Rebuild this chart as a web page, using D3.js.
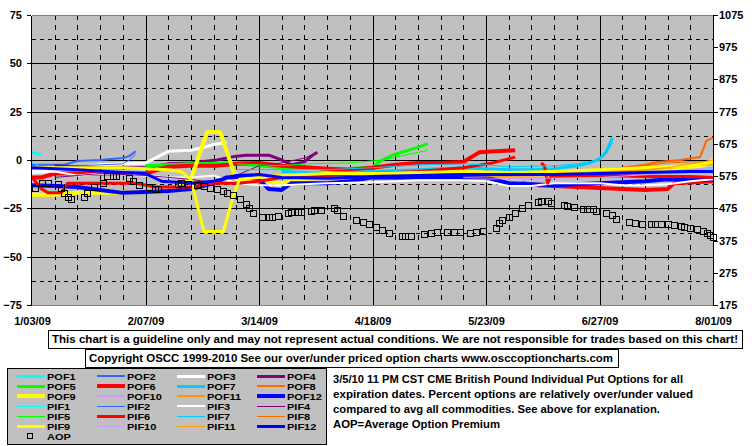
<!DOCTYPE html>
<html>
<head>
<meta charset="utf-8">
<title>British Pound Individual Put Options</title>
<script src="https://d3js.org/d3.v7.min.js"></script>
<style>
  body { margin: 0; background: #fff; }
  svg text { font-family: "Liberation Sans", Arial, sans-serif; font-weight: bold; font-size: 11px; fill: #000; }
</style>
</head>
<body>
<div id="chart"></div>
<script>
// axis ticks
const xTickDates = ["1/03", "2/07", "3/14", "4/18", "5/23", "6/27", "8/01"];
const leftTicks = [-75, -50, -25, 0, 25, 50, 75];
const rightTicks = [175, 275, 375, 475, 575, 675, 775, 875, 975, 1075];

// series: [date, percent over/under]; null = gap in the line
const POF1 = [["1/03", 4], ["1/06", 2.5]];
const POF2 = [["1/03", -2.5], ["1/13", -2.5], ["1/17", -0.5], ["1/24", 0], ["1/31", 1], ["2/02", 2], ["2/04", 4.5]];
const POF3 = [["1/03", -6], ["1/10", -5.5], ["1/17", -4], ["1/24", -2.5], ["1/31", -2], ["2/07", -1.5], ["2/10", 1], ["2/14", 4.5],
  ["2/21", 5], ["2/25", 6.5], ["2/28", 8], ["3/04", 9]];
const POF4 = [["1/10", -3], ["1/24", -4], ["2/07", -4], ["2/14", -2], ["2/21", -1.5], ["3/01", 0], ["3/07", 2], ["3/10", 2.5],
  ["3/17", 2.5], ["3/21", 0], ["3/24", -2.5], ["3/28", -1], ["3/31", 3], ["4/01", 4]];
const POF5 = [["2/07", -3], ["2/21", -2], ["3/07", -1.5], ["3/14", -3], ["3/21", -4], ["4/04", -4.5], ["4/11", -4.5], ["4/18", -3.5],
  ["4/21", 0], ["4/25", 3], ["4/29", 5], ["5/02", 6.5], ["5/05", 8.5]];
const POF6 = [["1/03", -9], ["1/06", -9], ["1/10", -7], ["1/17", -7], ["1/31", -7], ["2/07", -7], ["2/14", -3.5], ["2/21", -3],
  ["3/01", -3], ["3/07", -2], ["3/14", -1.5], ["3/21", -3], ["4/04", -4.5], ["4/11", -5], ["4/18", -4], ["4/25", -2.5],
  ["5/02", -1.5], ["5/09", -1.5], ["5/16", -1], ["5/19", 2], ["5/21", 4], ["5/26", 4.5], ["6/01", 5], null,
  ["6/03", -12], ["6/08", -13], ["6/13", -13.5], ["6/20", -14], ["6/27", -14.5], ["7/04", -15], ["7/11", -15.5],
  ["7/18", -15], ["7/20", -12], ["8/01", -11]];
const POF7 = [["3/21", -6], ["4/04", -7], ["4/18", -6], ["5/02", -5], ["5/16", -4], ["5/23", -4.5], ["5/30", -5], ["6/06", -5],
  ["6/13", -4.5], ["6/20", -3], ["6/24", -1.5], ["6/27", 0.5], ["6/29", 4], ["7/01", 11.5]];
const POF8 = [["4/18", -9], ["5/02", -8], ["5/16", -7], ["5/30", -6.5], ["6/13", -6], ["6/27", -5.5], ["7/04", -4], ["7/11", -2.5],
  ["7/15", -1], ["7/22", 0], ["7/28", 1.5], ["7/30", 10], ["8/01", 11.5]];
const POF9 = [["1/03", -18], ["1/10", -18], ["1/17", -17], ["1/31", -17], ["2/07", -16.5], ["2/14", -16], ["2/18", -13],
  ["2/21", -10], ["2/26", 14.5], ["3/02", 14.5], ["3/07", -10], ["3/10", -11], ["3/14", -11], ["3/21", -12], ["3/28", -10],
  ["4/04", -9], ["4/18", -8], ["5/02", -8], ["5/16", -8.5], ["5/30", -9], ["6/13", -8], ["6/27", -7.5], ["7/04", -5],
  ["7/11", -4], ["7/18", -4.5], ["7/25", -4], ["7/29", -3], ["8/01", 0]];
const POF10 = [["4/18", -10], ["5/02", -9], ["5/30", -9], ["6/13", -9], ["6/27", -8], ["7/11", -7], ["7/18", -6], ["7/25", -5], ["8/01", -4]];
const POF11 = [["4/04", -10], ["4/18", -9], ["5/02", -8], ["5/16", -7.5], ["5/30", -7], ["6/13", -6.5], ["6/27", -6], ["7/11", -5],
  ["7/25", -3], ["8/01", -2]];
const POF12 = [["1/03", -13], ["1/10", -13.5], ["1/17", -14], ["1/24", -15.5], ["1/31", -17], ["2/07", -16.5], ["2/14", -16],
  ["2/21", -15], ["2/28", -12], ["3/04", -9], ["3/10", -8.5], ["3/14", -10], ["3/17", -15], ["3/21", -15.5], ["3/24", -12],
  ["4/04", -12], ["4/11", -11], ["4/18", -9], ["5/02", -9], ["5/16", -9], ["5/23", -9], ["5/30", -12], ["6/06", -12.5],
  ["6/13", -13], ["6/20", -12.5], ["6/27", -12], ["7/04", -11.5], ["7/11", -11], ["7/18", -10], ["7/25", -10.5], ["8/01", -10]];

const PIF1 = [["1/03", -1], ["1/05", -3], ["1/07", -5], null, ["7/18", -7], ["7/25", -6.5], ["8/01", -4]];
const PIF2 = [["1/10", -3.5], ["1/17", -3], ["1/24", -2.5], ["1/31", -2], ["2/02", 0], ["2/04", 3]];
const PIF3 = [["1/03", -7], ["1/10", -6], ["1/17", -8], ["1/24", -7], ["1/31", -7.5], ["2/07", -8], ["2/14", -9], ["2/21", -9],
  ["2/28", -8], ["3/07", -12], ["3/14", -13], ["3/21", -13], ["3/28", -12.5], ["4/04", -12], ["4/18", -11.5], ["5/02", -10.5],
  ["5/16", -10.5], ["5/23", -11], ["5/30", -13.5], ["6/06", -13.5], ["6/13", -12], ["6/27", -12], ["7/04", -13], ["7/11", -13],
  ["7/18", -12.5], ["7/25", -11], ["8/01", -10]];
const PIF4 = [["1/10", -9], ["1/17", -8], ["1/24", -7], ["2/07", -8], ["2/21", -10], ["3/01", -12], ["3/07", -8], ["3/14", -3],
  ["3/21", -1.5], ["3/28", 1], ["4/01", 4]];
const PIF5 = [["3/07", -2], ["3/21", -3], ["3/28", -2], ["4/11", -1.5], ["4/21", 0], ["4/28", 2.5], ["5/05", 5]];
const PIF6 = [["1/03", -9], ["1/06", -15], ["1/08", -17], ["1/12", -17], ["1/14", -12], ["1/24", -12], ["2/04", -12],
  ["2/10", -14], ["2/21", -14], ["2/28", -12], ["3/07", -12], ["3/14", -11], ["3/21", -9], ["4/04", -8], ["4/18", -7],
  ["5/02", -6], ["5/16", -4], ["5/25", -1.5], ["6/01", 1.5], null, ["6/09", -1.5], ["6/10", -3], ["6/11", -12],
  ["6/12", -8.5], ["6/20", -8.5], ["6/27", -8], ["7/11", -8.5], ["7/25", -8.5], ["8/01", -9]];
const PIF7 = [["3/07", -5], ["3/21", -5], ["4/04", -5], ["4/18", -4], ["5/02", -2.5], ["5/16", -2], ["5/23", -2.5], ["5/30", -3.5],
  ["6/13", -3], ["6/20", -2], ["6/27", 0], ["6/29", 3], ["7/01", 9]];
const PIF8 = [["5/02", -8], ["6/06", -6], ["6/27", -5], ["7/11", -3], ["7/18", -1.5], ["7/25", -1], ["8/01", -1]];
const PIF9 = [["1/03", -4], ["1/17", -4], ["1/31", -4], ["2/07", -4.5], ["2/14", -5], ["2/18", -6], ["2/21", -10], ["2/25", -37],
  ["3/03", -37], ["3/06", -19], ["3/08", -10], ["3/14", -9], ["3/21", -8], ["4/04", -7], ["4/18", -7], ["5/02", -6.5],
  ["5/16", -6], ["5/30", -6.5], ["6/13", -6], ["6/27", -5], ["7/11", -4], ["7/25", -3], ["8/01", -1]];
const PIF10 = [["5/16", -10], ["6/27", -9], ["7/18", -7], ["8/01", -5.5]];
const PIF11 = [["5/16", -9], ["6/13", -8], ["6/27", -7], ["7/11", -5], ["7/18", -4], ["7/25", -2], ["8/01", 0]];
const PIF12 = [["1/03", -4], ["1/17", -5], ["1/31", -6.5], ["2/07", -7], ["2/12", -11], ["2/21", -12], ["2/28", -11],
  ["3/07", -8], ["3/14", -7.5], ["3/21", -9], ["4/04", -9.5], ["4/18", -8.5], ["5/02", -8], ["5/16", -7.5], ["5/30", -7.5],
  ["6/13", -7.5], ["6/27", -7], ["7/11", -6.5], ["7/25", -6], ["8/01", -6]];

// average option premium (right axis)
const AOP = [["1/04", 538], ["1/06", 554], ["1/08", 554], ["1/11", 551], ["1/12", 538], ["1/13", 523], ["1/14", 510],
  ["1/15", 504], ["1/19", 510], ["1/20", 523], ["1/22", 541], ["1/25", 554], ["1/26", 575], ["1/28", 575], ["1/29", 575],
  ["2/02", 569], ["2/03", 560], ["2/05", 547], ["2/08", 541], ["2/10", 535], ["2/11", 535], ["2/17", 551], ["2/18", 554],
  ["2/20", 551], ["2/23", 547], ["2/25", 544], ["2/27", 538], ["3/01", 535], ["3/03", 529], ["3/04", 523], ["3/06", 516],
  ["3/08", 504], ["3/10", 488], ["3/11", 476], ["3/12", 461], ["3/15", 448], ["3/17", 448], ["3/18", 448], ["3/20", 451],
  ["3/23", 461], ["3/24", 464], ["3/26", 464], ["3/27", 464], ["3/30", 467], ["3/31", 470], ["4/02", 470], ["4/06", 476],
  ["4/07", 470], ["4/09", 451], ["4/13", 439], ["4/15", 433], ["4/17", 426], ["4/19", 417], ["4/21", 408], ["4/23", 398],
  ["4/27", 389], ["4/28", 389], ["4/30", 389], ["5/04", 395], ["5/06", 398], ["5/08", 402], ["5/11", 402], ["5/13", 402],
  ["5/15", 402], ["5/18", 398], ["5/20", 402], ["5/22", 405], ["5/26", 414], ["5/27", 430], ["5/28", 439], ["5/30", 448],
  ["6/01", 461], ["6/03", 476], ["6/05", 485], ["6/08", 495], ["6/09", 498], ["6/11", 498], ["6/12", 492], ["6/16", 485],
  ["6/17", 482], ["6/19", 479], ["6/22", 473], ["6/23", 473], ["6/25", 473], ["6/26", 467], ["6/29", 461], ["7/01", 454],
  ["7/02", 442], ["7/06", 433], ["7/08", 430], ["7/10", 426], ["7/13", 426], ["7/14", 426], ["7/16", 426], ["7/18", 426],
  ["7/20", 423], ["7/22", 420], ["7/23", 417], ["7/25", 414], ["7/27", 411], ["7/29", 405], ["7/30", 398], ["7/31", 392],
  ["8/01", 386]];

const disclaimer = "This chart is a guideline only and may not represent actual conditions. We are not responsible for trades based on this chart!";
const copyright = "Copyright OSCC 1999-2010 See our over/under priced option charts www.osccoptioncharts.com";
const descLines = [
  "3/5/10 11 PM CST CME British Pound Individual Put Options for all",
  "expiration dates. Percent options are relatively over/under valued",
  "compared to avg all commodities. See above for explanation.",
  "AOP=Average Option Premium"
];

const palette = ["#00FFFF", "#3366FF", "#FFFFFF", "#800080", "#00FF00", "#FF0000",
                 "#00CCFF", "#FF6600", "#FFFF00", "#CC99FF", "#FF9900", "#0000FF"];
const pofWidth = [3, 2, 3, 3, 3, 4, 3, 2, 4, 2, 2, 4];
const pifWidth = [1, 1, 2, 1, 1, 3, 1, 1, 3, 1, 1, 3];

const pofData = [POF1, POF2, POF3, POF4, POF5, POF6, POF7, POF8, POF9, POF10, POF11, POF12];
const pifData = [PIF1, PIF2, PIF3, PIF4, PIF5, PIF6, PIF7, PIF8, PIF9, PIF10, PIF11, PIF12];

const series = [];
pofData.forEach((d, i) => series.push({name: "POF" + (i + 1), data: d, color: palette[i], width: pofWidth[i]}));
pifData.forEach((d, i) => series.push({name: "PIF" + (i + 1), data: d, color: palette[i], width: pifWidth[i]}));

const parse = d3.timeParse("%m/%d/%y");
const toDate = s => parse(s + "/09");

const W = 755, H = 446;
const plot = {left: 32, right: 713, top: 15, bottom: 305};

const svg = d3.select("#chart").append("svg")
    .attr("width", W).attr("height", H)
    .style("display", "block");

svg.append("rect").attr("width", W).attr("height", H).attr("fill", "#fff");

const x = d3.scaleTime()
    .domain([toDate(xTickDates[0]), toDate(xTickDates[xTickDates.length - 1])])
    .range([plot.left, plot.right]);
const yL = d3.scaleLinear().domain([-75, 75]).range([plot.bottom, plot.top]);
const yR = d3.scaleLinear().domain([175, 1075]).range([plot.bottom, plot.top]);

// plot background
svg.append("rect")
    .attr("x", plot.left).attr("y", plot.top)
    .attr("width", plot.right - plot.left).attr("height", plot.bottom - plot.top)
    .attr("fill", "#C0C0C0");

// grid
const grid = svg.append("g").attr("shape-rendering", "crispEdges");
const majorSet = new Set(xTickDates.map(s => +toDate(s)));
const weeks = d3.timeSaturday.range(d3.timeDay.offset(x.domain()[0], 1), x.domain()[1]);
weeks.forEach(d => {
  const xx = Math.round(x(d)) + 0.5;
  grid.append("line")
      .attr("x1", xx).attr("x2", xx).attr("y1", plot.top).attr("y2", plot.bottom)
      .attr("stroke", "#000").attr("stroke-width", 1)
      .attr("stroke-dasharray", majorSet.has(+d) ? null : "5,5");
});
leftTicks.slice(1, -1).forEach(t => {
  const yy = Math.round(yL(t)) + 0.5;
  grid.append("line").attr("x1", plot.left).attr("x2", plot.right).attr("y1", yy).attr("y2", yy)
      .attr("stroke", "#000");
});
leftTicks.slice(1).forEach((t, i) => {
  const yy = Math.round(yL((t + leftTicks[i]) / 2)) + 0.5;
  grid.append("line").attr("x1", plot.left).attr("x2", plot.right).attr("y1", yy).attr("y2", yy)
      .attr("stroke", "#000").attr("stroke-dasharray", "4,4");
});

// plot border top/bottom
svg.append("line").attr("x1", plot.left).attr("x2", plot.right).attr("y1", plot.top + 0.5).attr("y2", plot.top + 0.5)
    .attr("stroke", "#808080").attr("shape-rendering", "crispEdges");
svg.append("line").attr("x1", plot.left).attr("x2", plot.right).attr("y1", plot.bottom + 0.5).attr("y2", plot.bottom + 0.5)
    .attr("stroke", "#808080").attr("shape-rendering", "crispEdges");

// clip
svg.append("clipPath").attr("id", "clip").append("rect")
    .attr("x", plot.left).attr("y", plot.top)
    .attr("width", plot.right - plot.left).attr("height", plot.bottom - plot.top);

const line = d3.line()
    .defined(d => d != null)
    .x(d => x(toDate(d[0])))
    .y(d => yL(d[1]));

const lines = svg.append("g").attr("clip-path", "url(#clip)");
series.forEach(s => {
  lines.append("path")
      .attr("d", line(s.data))
      .attr("fill", "none")
      .attr("stroke", s.color)
      .attr("stroke-width", s.width)
      .attr("stroke-linejoin", "round");
});

// AOP markers
svg.append("g").selectAll("rect")
    .data(AOP)
    .join("rect")
    .attr("x", d => Math.round(x(toDate(d[0]))) - 3 + 0.5)
    .attr("y", d => Math.round(yR(d[1])) - 3 + 0.5)
    .attr("width", 6).attr("height", 6)
    .attr("fill", "none").attr("stroke", "#000")
    .attr("shape-rendering", "crispEdges");

// axes
const axL = svg.append("g").attr("transform", "translate(" + (plot.left - 1) + ",0)")
    .call(d3.axisLeft(yL).tickValues(leftTicks).tickSize(4).tickSizeOuter(0).tickPadding(5));
const axR = svg.append("g").attr("transform", "translate(" + plot.right + ",0)")
    .call(d3.axisRight(yR).tickValues(rightTicks).tickSize(5).tickSizeOuter(0).tickPadding(1)
      .tickFormat(d3.format("d")));
const axB = svg.append("g").attr("transform", "translate(0," + plot.bottom + ")")
    .call(d3.axisBottom(x).tickValues(xTickDates.map(toDate)).tickSize(0).tickPadding(12)
      .tickFormat(d3.timeFormat("%-m/%d/%y")));
axB.select(".domain").remove();
[axL, axR, axB].forEach(a => {
  a.attr("font-family", null).attr("font-size", null);
  a.selectAll("path, line").attr("stroke", "#000").attr("shape-rendering", "crispEdges");
  a.selectAll("text").attr("fill", "#000");
});

// disclaimer boxes
function box(x0, y0, w, h, txt, tx, ty, tl) {
  svg.append("rect").attr("x", x0 + 0.5).attr("y", y0 + 0.5).attr("width", w).attr("height", h)
      .attr("fill", "#fff").attr("stroke", "#000").attr("shape-rendering", "crispEdges");
  svg.append("text").attr("x", tx).attr("y", ty).attr("textLength", tl)
      .attr("lengthAdjust", "spacingAndGlyphs").text(txt);
}
box(48, 330, 694, 18, disclaimer, 52, 343, 686);
box(85, 349, 533, 18, copyright, 89, 362, 524);

// legend
const lg = svg.append("g");
lg.append("rect").attr("x", 7.5).attr("y", 368.5).attr("width", 319).attr("height", 76)
    .attr("fill", "#C0C0C0").attr("stroke", "#000").attr("shape-rendering", "crispEdges");
series.forEach((s, i) => {
  const col = i % 4, row = Math.floor(i / 4);
  const lx = 17 + col * 80, ly = 376 + row * 10;
  lg.append("line").attr("x1", lx).attr("x2", lx + 28).attr("y1", ly).attr("y2", ly)
      .attr("stroke", s.color).attr("stroke-width", s.width).attr("shape-rendering", "crispEdges");
  lg.append("text").attr("transform", "translate(" + (lx + 30) + "," + (ly + 4) + ") scale(1,0.8)").text(s.name);
});
lg.append("rect").attr("x", 27.5).attr("y", 433.5).attr("width", 5).attr("height", 5)
    .attr("fill", "none").attr("stroke", "#000").attr("shape-rendering", "crispEdges");
lg.append("text").attr("transform", "translate(47,440) scale(1,0.8)").text("AOP");

// description
const descWidths = [350, 360, 327, 167];
descLines.forEach((t, i) => {
  svg.append("text").attr("x", 333).attr("y", 383 + i * 15)
      .attr("textLength", descWidths[i]).attr("lengthAdjust", "spacingAndGlyphs").text(t);
});
</script>
</body>
</html>
